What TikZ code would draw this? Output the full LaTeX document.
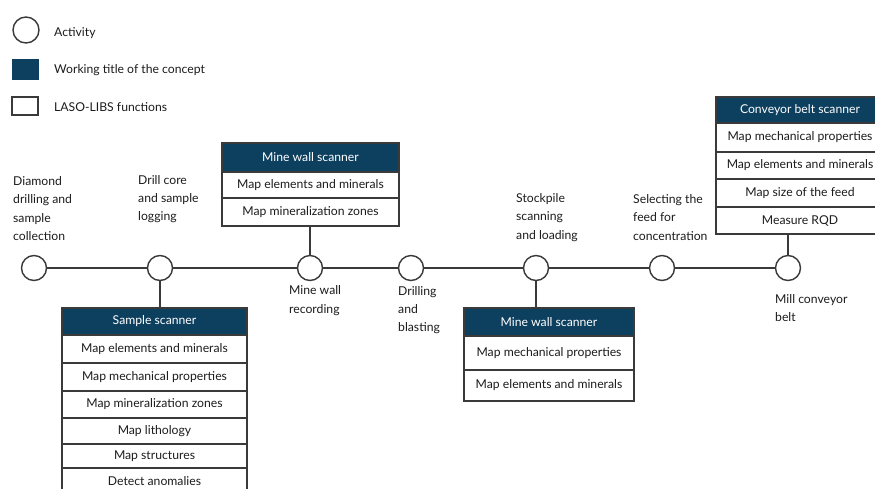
\documentclass[tikz,border=0pt]{standalone}
\usepackage{fontspec}
\setmainfont{Lato}
\definecolor{navy}{HTML}{0D3F5F}
\definecolor{linec}{HTML}{3A3A3A}
\definecolor{textc}{HTML}{1C1C1C}
\begin{document}
\begin{tikzpicture}[x=1pt,y=-1pt,
  act/.style={circle, draw=linec, line width=1.4pt, fill=white, minimum size=25pt, inner sep=0pt},
  hdr/.style={rectangle, draw=linec, fill=navy, text=white, line width=1.1pt, inner sep=0pt, font=\fontsize{12.2}{14}\selectfont},
  row/.style={rectangle, draw=linec, fill=white, text=textc, line width=1.1pt, inner sep=0pt, font=\fontsize{12.2}{14}\selectfont},
  lbl/.style={anchor=west, align=left, inner sep=0pt, text=textc, font=\fontsize{12.2}{18.3}\selectfont},
  conn/.style={draw=linec, line width=1.4pt}]
\useasboundingbox (0,0) rectangle (875,488);
\clip (0,0) rectangle (875,488);
\fill[white] (0,0) rectangle (875,488);

% legend
\node[circle, draw=linec, line width=1.4pt, minimum size=26pt, inner sep=0pt] (lgA) at (26,30) {};
\node[lbl] (lgAt) at (54,33) {Activity};
\node[rectangle, fill=navy, draw=navy, minimum width=26pt, minimum height=20pt, inner sep=0pt] (lgB) at (25,69) {};
\node[lbl] (lgBt) at (54,70) {Working title of the concept};
\node[rectangle, draw=linec, line width=1.2pt, minimum width=26pt, minimum height=18pt, inner sep=0pt] (lgC) at (25,106) {};
\node[lbl] (lgCt) at (54,107) {LASO-LIBS functions};

% timeline activities
\node[act] (a1) at (34,268) {};
\node[act] (a2) at (160,268) {};
\node[act] (a3) at (310,268) {};
\node[act] (a4) at (411,268) {};
\node[act] (a5) at (536,268) {};
\node[act] (a6) at (662,268) {};
\node[act] (a7) at (788,268) {};
\foreach \p/\q in {a1/a2,a2/a3,a3/a4,a4/a5,a5/a6,a6/a7} \draw[conn] (\p) -- (\q);

% activity labels
\node[lbl] (l1) at (13,208.5) {Diamond\\drilling and\\sample\\collection};
\node[lbl] (l2) at (138,199) {Drill core\\and sample\\logging};
\node[lbl] (l3) at (289,300.5) {Mine wall\\recording};
\node[lbl] (l4) at (398,310) {Drilling\\and\\blasting};
\node[lbl] (l5) at (516,217.5) {Stockpile\\scanning\\and loading};
\node[lbl] (l6) at (633,217.5) {Selecting the\\feed for\\concentration};
\node[lbl] (l7) at (775,308) {Mill conveyor\\belt};

% top mine wall scanner
\node[hdr, minimum width=177pt, minimum height=29pt] (mw1h) at (310.5,157.5) {Mine wall scanner};
\node[row, minimum width=177pt, minimum height=26pt] (mw1a) at (310.5,185) {Map elements and minerals};
\node[row, minimum width=177pt, minimum height=28pt] (mw1b) at (310.5,212) {Map mineralization zones};
\draw[conn] (mw1b.south -| a3) -- (a3.north);

% sample scanner
\node[hdr, minimum width=185pt, minimum height=27pt] (ssh) at (154.5,321.5) {Sample scanner};
\node[row, minimum width=185pt, minimum height=28pt] (ss1) at (154.5,349) {Map elements and minerals};
\node[row, minimum width=185pt, minimum height=28pt] (ss2) at (154.5,377) {Map mechanical properties};
\node[row, minimum width=185pt, minimum height=27pt] (ss3) at (154.5,404.5) {Map mineralization zones};
\node[row, minimum width=185pt, minimum height=26pt] (ss4) at (154.5,431) {Map lithology};
\node[row, minimum width=185pt, minimum height=24pt] (ss5) at (154.5,456) {Map structures};
\node[row, minimum width=185pt, minimum height=27pt] (ss6) at (154.5,481.5) {Detect anomalies};
\draw[conn] (a2.south) -- (a2.south |- ssh.north);

% bottom mine wall scanner
\node[hdr, minimum width=170pt, minimum height=28pt] (mw2h) at (549,322) {Mine wall scanner};
\node[row, minimum width=170pt, minimum height=34pt] (mw2a) at (549,353) {Map mechanical properties};
\node[row, minimum width=170pt, minimum height=31pt] (mw2b) at (549,385.5) {Map elements and minerals};
\draw[conn] (a5.south) -- (a5.south |- mw2h.north);

% conveyor belt scanner
\node[hdr, minimum width=168pt, minimum height=26pt] (cbh) at (800,110) {Conveyor belt scanner};
\node[row, minimum width=168pt, minimum height=29pt] (cb1) at (800,137.5) {Map mechanical properties};
\node[row, minimum width=168pt, minimum height=27pt] (cb2) at (800,165.5) {Map elements and minerals};
\node[row, minimum width=168pt, minimum height=28pt] (cb3) at (800,193) {Map size of the feed};
\node[row, minimum width=168pt, minimum height=27pt] (cb4) at (800,220.5) {Measure RQD};
\draw[conn] (cb4.south -| a7) -- (a7.north);
\end{tikzpicture}
\end{document}
